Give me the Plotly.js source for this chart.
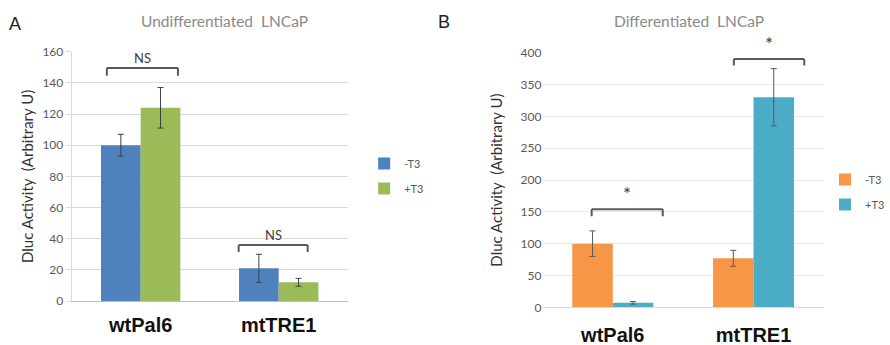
<!DOCTYPE html>
<html><head><meta charset="utf-8">
<script src="https://cdn.plot.ly/plotly-3.0.1.min.js"></script>
<style>html,body{margin:0;padding:0;background:#fff}#c{width:890px;height:345px}</style>
</head><body><div id="c"></div>
<script>
const categories = ["wtPal6", "mtTRE1"];
const seriesNames = ["-T3", "+T3"];
// Panel A: Undifferentiated LNCaP
const aMinus = [100, 21];
const aMinusErr = [7, 9];
const aPlus = [124, 12];
const aPlusErr = [13, 2.5];
const aSig = ["NS", "NS"];
const aBracketY = [149.5, 36];
// Panel B: Differentiated LNCaP
const bMinus = [100, 77];
const bMinusErr = [20, 12.5];
const bPlus = [7, 330];
const bPlusErr = [2, 45];
const bSig = ["*", "*"];
const bBracketY = [154, 390];
const aTicks = [0, 20, 40, 60, 80, 100, 120, 140, 160];
const bTicks = [0, 50, 100, 150, 200, 250, 300, 350, 400];

const FONT = "Lato, 'Open Sans', sans-serif";
const errStyle = {color: "#404040", thickness: 1, width: 3};

const traces = [
  {type: "bar", name: seriesNames[0], x: categories, y: aMinus, xaxis: "x", yaxis: "y",
   marker: {color: "#4f81bd"}, error_y: Object.assign({type: "data", array: aMinusErr, visible: true}, errStyle),
   legend: "legend", legendgroup: "a1"},
  {type: "bar", name: seriesNames[1], x: categories, y: aPlus, xaxis: "x", yaxis: "y",
   marker: {color: "#9bbb59"}, error_y: Object.assign({type: "data", array: aPlusErr, visible: true}, errStyle),
   legend: "legend", legendgroup: "a2"},
  {type: "bar", name: seriesNames[0], x: categories, y: bMinus, xaxis: "x2", yaxis: "y2",
   marker: {color: "#f79646"}, error_y: Object.assign({type: "data", array: bMinusErr, visible: true}, errStyle, {color: "#595959"}),
   legend: "legend2", legendgroup: "b1"},
  {type: "bar", name: seriesNames[1], x: categories, y: bPlus, xaxis: "x2", yaxis: "y2",
   marker: {color: "#4bacc6"}, error_y: Object.assign({type: "data", array: bPlusErr, visible: true}, errStyle, {color: "#595959"}),
   legend: "legend2", legendgroup: "b2"}
];

const shapes = [];
const annotations = [];
function bracket(xa, ya, idx, y, drop, left, right, label, labelDy, fontSize) {
  const x0 = idx + left, x1 = idx + right;
  const ln = {color: "#595959", width: 2};
  shapes.push({type: "line", xref: xa, yref: ya, x0: x0, x1: x1, y0: y, y1: y, line: ln});
  shapes.push({type: "line", xref: xa, yref: ya, x0: x0, x1: x0, y0: y, y1: y - drop, line: ln});
  shapes.push({type: "line", xref: xa, yref: ya, x0: x1, x1: x1, y0: y, y1: y - drop, line: ln});
  annotations.push({xref: xa, yref: ya, x: (x0 + x1) / 2, y: y, text: label, showarrow: false,
    xanchor: "center", yanchor: "bottom", yshift: labelDy, font: {family: FONT, size: fontSize, color: "#404040"}});
}
bracket("x", "y", 0, aBracketY[0], 5, -0.245, 0.27, aSig[0], 0, 13);
bracket("x", "y", 1, aBracketY[1], 4.5, -0.29, 0.21, aSig[1], 0, 13);
bracket("x2", "y2", 0, bBracketY[0], 11, -0.15, 0.355, bSig[0], 2, 19);
bracket("x2", "y2", 1, bBracketY[1], 10, -0.14, 0.36, bSig[1], 2, 19);

const titleFont = {family: FONT, size: 15.5, color: "#8a8a8a"};
annotations.push({xref: "paper", yref: "paper", x: 231.5/890, y: 1 - 21/345, xanchor: "center", yanchor: "middle",
  text: "Undifferentiated  LNCaP", showarrow: false, font: titleFont});
annotations.push({xref: "paper", yref: "paper", x: 711/890, y: 1 - 21/345, xanchor: "center", yanchor: "middle",
  text: "Differentiated  LNCaP", showarrow: false, font: titleFont});
annotations.push({xref: "paper", yref: "paper", x: 15/890, y: 1 - 24/345, xanchor: "center", yanchor: "middle",
  text: "A", showarrow: false, font: {family: "Liberation Sans, Arial, sans-serif", size: 18, color: "#222"}});
annotations.push({xref: "paper", yref: "paper", x: 458/890, y: 1 - 22/345, xanchor: "center", yanchor: "middle",
  text: "B", showarrow: false, font: {family: "Liberation Sans, Arial, sans-serif", size: 18, color: "#222"}});

const tickFont = {family: FONT, size: 12, color: "#595959"};
const catFont = {family: "Liberation Sans, Arial, sans-serif", size: 20, color: "#111", weight: "bold"};
const yTitleFont = {family: FONT, size: 15, color: "#333"};

const layout = {
  width: 890, height: 345,
  margin: {l: 0, r: 0, t: 0, b: 0},
  paper_bgcolor: "#fff", plot_bgcolor: "#fff",
  barmode: "group", bargap: 0.425, bargroupgap: 0,
  showlegend: true,
  shapes: shapes, annotations: annotations,
  xaxis: {domain: [74/890, 359/890], anchor: "y", type: "category", tickfont: catFont,
    showgrid: false, showline: true, linecolor: "#bfbfbf", ticks: "", ticklabelstandoff: 6, fixedrange: true},
  yaxis: {domain: [44/345, 293.3/345], anchor: "x", range: [0, 160], tickvals: aTicks, tickfont: tickFont,
    showgrid: true, gridcolor: "#d9d9d9", zeroline: false, showline: true, linecolor: "#d9d9d9", ticks: "outside", ticklen: 5, tickcolor: "#d9d9d9",
    title: {text: "Dluc Activity  (Arbitrary U)", font: yTitleFont, standoff: 5}, fixedrange: true},
  xaxis2: {domain: [560/890, 850.7/890], anchor: "y2", type: "category", tickfont: catFont,
    showgrid: false, showline: true, linecolor: "#d9d9d9", ticks: "", ticklabelstandoff: 10, fixedrange: true},
  yaxis2: {domain: [37.7/345, 292.3/345], anchor: "x2", range: [0, 400], tickvals: bTicks, tickfont: tickFont,
    showgrid: true, gridcolor: "#e8e8e8", zeroline: false, showline: false, ticks: "",
    title: {text: "Dluc Activity  (Arbitrary U)", font: yTitleFont, standoff: 14}, fixedrange: true},
  legend: {x: 376/890, xanchor: "left", y: 1 - 149/345, yanchor: "top", font: {family: FONT, size: 11, color: "#595959"},
    bgcolor: "rgba(0,0,0,0)", tracegroupgap: 6, traceorder: "grouped", itemwidth: 30},
  legend2: {x: 852/890, xanchor: "left", y: 1 - 165/345, yanchor: "top", font: {family: FONT, size: 11, color: "#595959"},
    bgcolor: "rgba(0,0,0,0)", tracegroupgap: 6, traceorder: "grouped", itemwidth: 30}
};

Plotly.newPlot("c", traces, layout, {displayModeBar: false, staticPlot: true});
</script></body></html>
